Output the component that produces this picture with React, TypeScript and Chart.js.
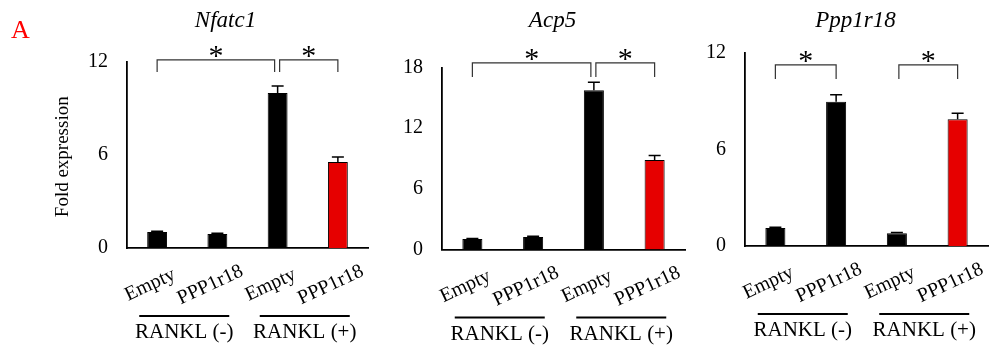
import React, { useEffect, useRef } from 'react';
import { Chart, registerables } from 'chart.js';

Chart.register(...registerables);

const FONT = "'Liberation Serif', 'Times New Roman', serif";

const categories = ['Empty', 'PPP1r18', 'Empty', 'PPP1r18'];
const groupLabels = ['RANKL (-)', 'RANKL (+)'];
const barColors = ['#000000', '#000000', '#000000', '#e60000'];

const nfatc1Title = 'Nfatc1';
const nfatc1Values = [1.03, 0.9, 9.97, 5.53];
const nfatc1Errors = [0.05, 0.05, 0.45, 0.32];
const nfatc1Ticks = [0, 6, 12];
const nfatc1Brackets = [
  [0, 2, 12.1, 11.33],
  [2, 3, 12.1, 11.33],
];

const acp5Title = 'Acp5';
const acp5Values = [1.04, 1.24, 15.75, 8.85];
const acp5Errors = [0.06, 0.06, 0.8, 0.45];
const acp5Ticks = [0, 6, 12, 18];
const acp5Brackets = [
  [0, 2, 18.45, 17.06],
  [2, 3, 18.45, 17.06],
];

const ppp1r18Title = 'Ppp1r18';
const ppp1r18Values = [1.12, 8.97, 0.79, 7.88];
const ppp1r18Errors = [0.05, 0.44, 0.05, 0.37];
const ppp1r18Ticks = [0, 6, 12];
const ppp1r18Brackets = [
  [0, 1, 11.26, 10.39],
  [2, 3, 11.26, 10.39],
];

const yAxisTitle = 'Fold expression';
const panelLetter = 'A';
const starText = '*';

type PanelCfg = {
  title: string;
  values: number[];
  errors: number[];
  ticks: number[];
  brackets: number[][];
  left: number;
  width: number;
  yWidth: number;
  padRight: number;
  areaTop: number;
  areaBottom: number;
  titleDx: number;
  first?: boolean;
};

const H = 355;

function Panel(cfg: PanelCfg) {
  const ref = useRef<HTMLCanvasElement | null>(null);
  useEffect(() => {
    if (!ref.current) return;
    const max = cfg.ticks[cfg.ticks.length - 1];
    const overlay = {
      id: 'overlay',
      afterDatasetsDraw(chart: any) {
        const ctx = chart.ctx;
        const xs = chart.scales.x;
        const ys = chart.scales.y;
        ctx.save();
        ctx.strokeStyle = '#000';
        ctx.lineWidth = 1.5;
        cfg.values.forEach((v, i) => {
          const cx = xs.getPixelForValue(i);
          const top = ys.getPixelForValue(v);
          const e = ys.getPixelForValue(v + cfg.errors[i]);
          ctx.beginPath();
          ctx.moveTo(cx, top);
          ctx.lineTo(cx, e);
          ctx.moveTo(cx - 6, e);
          ctx.lineTo(cx + 6, e);
          ctx.stroke();
        });
        ctx.restore();
      },
      afterDraw(chart: any) {
        const ctx = chart.ctx;
        const xs = chart.scales.x;
        const ys = chart.scales.y;
        const area = chart.chartArea;
        const axisY = ys.getPixelForValue(0);
        ctx.save();
        // brackets
        ctx.strokeStyle = '#333';
        ctx.lineWidth = 1.2;
        cfg.brackets.forEach(([a, b, top, leg], k) => {
          const x1 = xs.getPixelForValue(a) + (k === 1 ? 2 : 0);
          const x2 = xs.getPixelForValue(b) - (k === 0 && cfg.brackets[1][0] === b ? 3 : 0);
          const yt = ys.getPixelForValue(top);
          const yl = ys.getPixelForValue(leg);
          ctx.beginPath();
          ctx.moveTo(x1, yl);
          ctx.lineTo(x1, yt);
          ctx.lineTo(x2, yt);
          ctx.lineTo(x2, yl);
          ctx.stroke();
          ctx.fillStyle = '#000';
          ctx.font = `30px ${FONT}`;
          ctx.textAlign = 'center';
          ctx.textBaseline = 'alphabetic';
          ctx.fillText(starText, (x1 + x2) / 2, yt + 5);
        });
        // title
        ctx.fillStyle = '#000';
        ctx.font = `italic 23px ${FONT}`;
        ctx.textAlign = 'center';
        ctx.textBaseline = 'alphabetic';
        ctx.fillText(cfg.title, (area.left + area.right) / 2 + cfg.titleDx, 27);
        // category labels
        ctx.font = `20px ${FONT}`;
        categories.forEach((c, i) => {
          const cx = xs.getPixelForValue(i);
          ctx.save();
          ctx.translate(cx - 7, axisY + 37);
          ctx.rotate((-25 * Math.PI) / 180);
          ctx.textAlign = 'center';
          ctx.textBaseline = 'middle';
          ctx.fillText(c, 0, 0);
          ctx.restore();
        });
        // group labels
        groupLabels.forEach((g, k) => {
          const gx = (xs.getPixelForValue(2 * k) + xs.getPixelForValue(2 * k + 1)) / 2 - 3;
          ctx.strokeStyle = '#000';
          ctx.lineWidth = 2;
          ctx.beginPath();
          ctx.moveTo(gx - 45, axisY + 68);
          ctx.lineTo(gx + 45, axisY + 68);
          ctx.stroke();
          ctx.font = `21px ${FONT}`;
          ctx.textAlign = 'center';
          ctx.textBaseline = 'alphabetic';
          ctx.fillText(g, gx, axisY + 90);
        });
        if (cfg.first) {
          ctx.save();
          ctx.font = `19px ${FONT}`;
          ctx.translate(63, (area.top + area.bottom) / 2 + 2);
          ctx.rotate(-Math.PI / 2);
          ctx.textAlign = 'center';
          ctx.textBaseline = 'middle';
          ctx.fillText(yAxisTitle, 0, 0);
          ctx.restore();
          ctx.fillStyle = '#ff0000';
          ctx.font = `26px ${FONT}`;
          ctx.textAlign = 'left';
          ctx.textBaseline = 'alphabetic';
          ctx.fillText(panelLetter, 11, 38);
        }
        ctx.restore();
      },
    };
    const chart = new Chart(ref.current, {
      type: 'bar',
      data: {
        labels: categories,
        datasets: [
          {
            data: cfg.values,
            backgroundColor: barColors,
            borderColor: '#000',
            borderWidth: 1,
            barPercentage: 0.33,
            categoryPercentage: 1,
          },
        ],
      },
      options: {
        responsive: false,
        animation: false,
        devicePixelRatio: 1,
        layout: { padding: { top: cfg.areaTop, right: cfg.padRight, left: 0, bottom: 0 } },
        plugins: {
          legend: { display: false },
          tooltip: { enabled: false },
          title: { display: false },
        },
        scales: {
          x: {
            type: 'category',
            offset: true,
            grid: { display: false, drawTicks: false },
            border: { display: true, color: '#000', width: 1.8 },
            ticks: { display: false },
            afterFit: (s: any) => {
              s.height = H - cfg.areaBottom;
            },
          },
          y: {
            min: 0,
            max,
            grid: { display: false, drawTicks: false },
            border: { display: true, color: '#000', width: 1.8 },
            ticks: {
              color: '#000',
              padding: 19,
              font: { family: FONT, size: 20 },
            },
            afterBuildTicks: (s: any) => {
              s.ticks = cfg.ticks.map((v) => ({ value: v }));
            },
            afterFit: (s: any) => {
              s.width = cfg.yWidth;
            },
          },
        },
      },
      plugins: [overlay],
    } as any);
    return () => chart.destroy();
  }, []);
  return (
    <canvas
      ref={ref}
      width={cfg.width}
      height={H}
      style={{ position: 'absolute', left: cfg.left, top: 0, width: cfg.width, height: H }}
    />
  );
}

export default function App() {
  return (
    <div style={{ position: 'absolute', left: 0, top: 0, width: 999, height: H, background: '#fff' }}>
      <Panel
        title={nfatc1Title}
        values={nfatc1Values}
        errors={nfatc1Errors}
        ticks={nfatc1Ticks}
        brackets={nfatc1Brackets}
        left={0}
        width={380}
        yWidth={127}
        padRight={12}
        areaTop={61.5}
        areaBottom={248}
        titleDx={-22}
        first
      />
      <Panel
        title={acp5Title}
        values={acp5Values}
        errors={acp5Errors}
        ticks={acp5Ticks}
        brackets={acp5Brackets}
        left={380}
        width={315}
        yWidth={62}
        padRight={10}
        areaTop={67.5}
        areaBottom={249.5}
        titleDx={-11}
      />
      <Panel
        title={ppp1r18Title}
        values={ppp1r18Values}
        errors={ppp1r18Errors}
        ticks={ppp1r18Ticks}
        brackets={ppp1r18Brackets}
        left={695}
        width={304}
        yWidth={50}
        padRight={11}
        areaTop={53}
        areaBottom={246}
        titleDx={-11}
      />
    </div>
  );
}
